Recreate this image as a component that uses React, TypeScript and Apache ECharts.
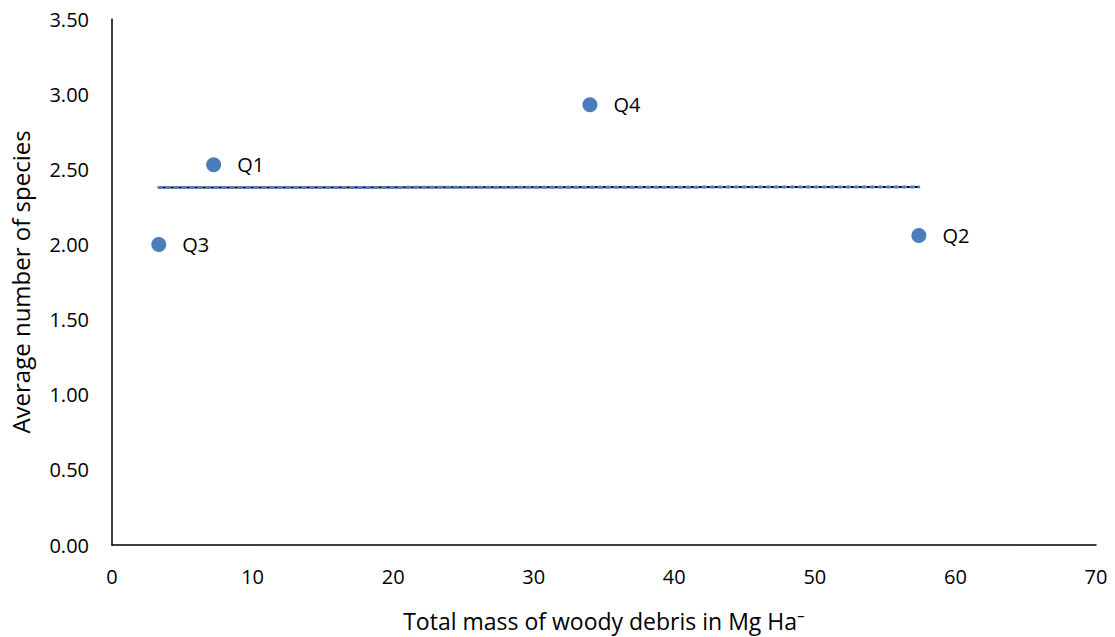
import React, { useEffect, useRef } from "react";
import * as echarts from "echarts";

const labels = ["Q3", "Q1", "Q4", "Q2"];
const massValues = [3.33, 7.23, 34.0, 57.4];
const speciesValues = [2.0, 2.53, 2.93, 2.06];
const yTicks = ["0.00", "0.50", "1.00", "1.50", "2.00", "2.50", "3.00", "3.50"];

function linearFit(xs: number[], ys: number[]) {
  const n = xs.length;
  const mx = xs.reduce((a, b) => a + b, 0) / n;
  const my = ys.reduce((a, b) => a + b, 0) / n;
  let num = 0;
  let den = 0;
  for (let i = 0; i < n; i++) {
    num += (xs[i] - mx) * (ys[i] - my);
    den += (xs[i] - mx) * (xs[i] - mx);
  }
  const slope = num / den;
  const intercept = my - slope * mx;
  return (x: number) => intercept + slope * x;
}

export default function App() {
  const ref = useRef<HTMLDivElement>(null);
  useEffect(() => {
    if (!ref.current) return;
    const chart = echarts.init(ref.current, null, { renderer: "svg" });
    const fit = linearFit(massValues, speciesValues);
    const xMin = Math.min(...massValues);
    const xMax = Math.max(...massValues);
    const trend = [
      [xMin, fit(xMin)],
      [xMax, fit(xMax)],
    ];
    const font = "'Open Sans', 'Noto Sans', sans-serif";
    chart.setOption({
      animation: false,
      backgroundColor: "#ffffff",
      grid: { left: 108, right: 19, top: 19, bottom: 88, containLabel: false },
      xAxis: {
        type: "value",
        min: 0,
        max: 70,
        interval: 10,
        name: "Total mass of woody debris in Mg Ha⁻",
        nameLocation: "middle",
        nameGap: 64,
        nameTextStyle: { fontFamily: font, fontSize: 23, color: "#000" },
        axisLine: { show: true, lineStyle: { color: "#000", width: 1.5 } },
        axisTick: { show: false },
        splitLine: { show: false },
        axisLabel: { fontFamily: font, fontSize: 20, color: "#000", margin: 21 },
      },
      yAxis: {
        type: "value",
        min: 0,
        max: 3.5,
        interval: 0.5,
        name: "Average number of species",
        nameLocation: "middle",
        nameGap: 80,
        nameRotate: 90,
        nameTextStyle: { fontFamily: font, fontSize: 24, color: "#000" },
        axisLine: { show: true, lineStyle: { color: "#000", width: 1.5 } },
        axisTick: { show: false },
        splitLine: { show: false },
        axisLabel: {
          fontFamily: font,
          fontSize: 20,
          color: "#000",
          margin: 23,
          formatter: (v: number) => yTicks[Math.round(v / 0.5)] ?? v.toFixed(2),
        },
      },
      series: [
        {
          type: "line",
          data: trend,
          symbol: "none",
          lineStyle: { color: "#000", width: 2 },
          z: 2,
        },
        {
          type: "line",
          data: trend,
          symbol: "none",
          lineStyle: { color: "#4f81bd", width: 3, type: [3, 5], cap: "round" },
          z: 3,
        },
        {
          type: "scatter",
          data: massValues.map((x, i) => [x, speciesValues[i], labels[i]]),
          symbolSize: 15,
          itemStyle: { color: "#4a7ebb", opacity: 1 },
          label: {
            show: true,
            position: "right",
            distance: 16,
            formatter: (p: any) => p.data[2],
            fontFamily: font,
            fontSize: 20,
            color: "#000",
          },
          z: 4,
        },
      ],
    });
    return () => chart.dispose();
  }, []);
  return (
    <div
      ref={ref}
      style={{ position: "absolute", left: 0, top: 0, width: 1115, height: 637 }}
    />
  );
}
